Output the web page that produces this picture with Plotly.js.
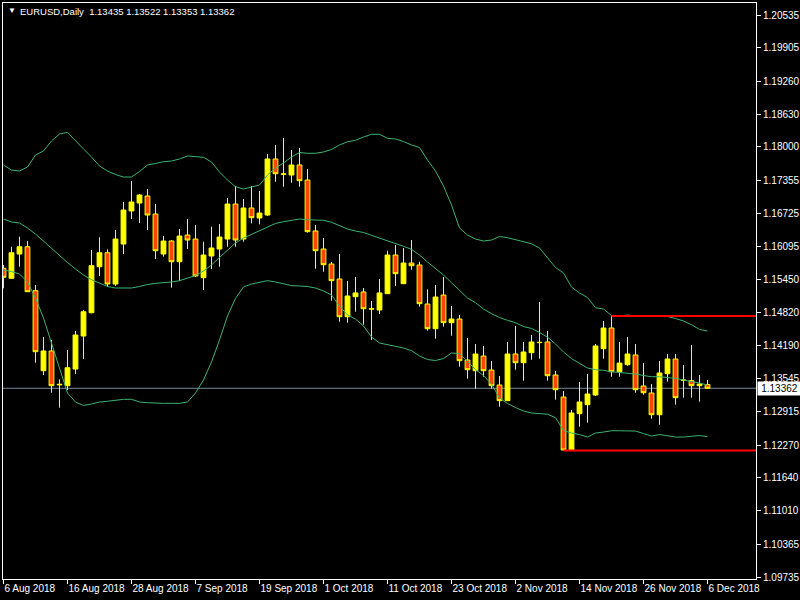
<!DOCTYPE html>
<html>
<head>
<meta charset="utf-8">
<script src="https://cdn.plot.ly/plotly-3.0.1.min.js"></script>
<style>
  html, body { margin: 0; padding: 0; background: #000; }
  #chart { width: 800px; height: 600px; }
</style>
</head>
<body>
<div id="chart"></div>
<script>
// ---- data (EURUSD, Daily) ----
const dates = [
  "2018-08-06","2018-08-07","2018-08-08","2018-08-09","2018-08-10","2018-08-13","2018-08-14","2018-08-15","2018-08-16","2018-08-17",
  "2018-08-20","2018-08-21","2018-08-22","2018-08-23","2018-08-24","2018-08-27","2018-08-28","2018-08-29","2018-08-30","2018-08-31",
  "2018-09-03","2018-09-04","2018-09-05","2018-09-06","2018-09-07","2018-09-10","2018-09-11","2018-09-12","2018-09-13","2018-09-14",
  "2018-09-17","2018-09-18","2018-09-19","2018-09-20","2018-09-21","2018-09-24","2018-09-25","2018-09-26","2018-09-27","2018-09-28",
  "2018-10-01","2018-10-02","2018-10-03","2018-10-04","2018-10-05","2018-10-08","2018-10-09","2018-10-10","2018-10-11","2018-10-12",
  "2018-10-15","2018-10-16","2018-10-17","2018-10-18","2018-10-19","2018-10-22","2018-10-23","2018-10-24","2018-10-25","2018-10-26",
  "2018-10-29","2018-10-30","2018-10-31","2018-11-01","2018-11-02","2018-11-05","2018-11-06","2018-11-07","2018-11-08","2018-11-09",
  "2018-11-12","2018-11-13","2018-11-14","2018-11-15","2018-11-16","2018-11-19","2018-11-20","2018-11-21","2018-11-22","2018-11-23",
  "2018-11-26","2018-11-27","2018-11-28","2018-11-29","2018-11-30","2018-12-03","2018-12-04","2018-12-05","2018-12-06"
];
const openP = [
  1.15668,1.15476,1.15942,1.16082,1.15238,1.13700,1.14079,1.13440,1.13412,1.13732,
  1.14367,1.14814,1.15698,1.15967,1.15366,1.16134,1.16769,1.16922,1.17057,1.16711,
  1.15942,1.16192,1.15794,1.16307,1.16230,1.15487,1.15904,1.16038,1.16230,1.16903,
  1.16230,1.16826,1.16634,1.16692,1.17768,1.17475,1.17460,1.17653,1.17364,1.16385,
  1.16038,1.15750,1.15462,1.14737,1.15122,1.15213,1.14891,1.14866,1.15180,1.15923,
  1.15372,1.15769,1.15731,1.14981,1.14507,1.15154,1.14623,1.14693,1.13905,1.13700,
  1.13982,1.13713,1.13425,1.13124,1.14021,1.13853,1.14046,1.14246,1.14252,1.13617,
  1.13194,1.12176,1.12874,1.13047,1.13233,1.14123,1.14520,1.13680,1.13815,1.14002,
  1.13406,1.13271,1.12854,1.13642,1.13924,1.13521,1.13508,1.13412,1.13435
];
const highP = [
  1.15731,1.16082,1.16275,1.16192,1.15347,1.14348,1.14290,1.13534,1.14098,1.14463,
  1.14866,1.16019,1.16264,1.16032,1.16404,1.16942,1.17345,1.17095,1.17191,1.16903,
  1.16288,1.16211,1.16423,1.16615,1.16500,1.16179,1.16467,1.16519,1.17018,1.17249,
  1.16999,1.17249,1.17153,1.17864,1.18037,1.18171,1.17941,1.17979,1.17575,1.16500,
  1.16250,1.15789,1.15942,1.15424,1.15500,1.15290,1.15039,1.15462,1.16006,1.16115,
  1.16058,1.16211,1.15794,1.15264,1.15347,1.15500,1.14943,1.14770,1.14328,1.14213,
  1.14175,1.13886,1.13598,1.14252,1.14559,1.14252,1.14386,1.15020,1.14463,1.13694,
  1.13310,1.12945,1.13483,1.13636,1.14213,1.14655,1.14751,1.14252,1.14348,1.14213,
  1.13848,1.13444,1.13886,1.14021,1.14021,1.13809,1.14194,1.13617,1.13522
];
const lowP = [
  1.15284,1.15462,1.15698,1.15213,1.13853,1.13617,1.13277,1.12989,1.13329,1.13636,
  1.13924,1.14803,1.15520,1.15314,1.15328,1.15942,1.16615,1.16538,1.16404,1.15846,
  1.15891,1.15295,1.15424,1.16038,1.15500,1.15251,1.15654,1.15698,1.16082,1.16082,
  1.16179,1.16532,1.16513,1.16673,1.17331,1.17235,1.17312,1.17235,1.16352,1.15660,
  1.15602,1.15045,1.14641,1.14622,1.14833,1.14584,1.14290,1.14789,1.15175,1.15329,
  1.15365,1.15641,1.14930,1.14469,1.14315,1.14546,1.14372,1.13777,1.13546,1.13354,
  1.13584,1.13354,1.13008,1.13118,1.13719,1.13508,1.13911,1.13930,1.13508,1.13143,
  1.12165,1.12170,1.12624,1.12700,1.13214,1.13930,1.13584,1.13584,1.13796,1.13277,
  1.13239,1.12777,1.12662,1.13489,1.13047,1.13181,1.13181,1.13104,1.13353
];
const closeP = [
  1.15495,1.15967,1.16082,1.15218,1.14065,1.14079,1.13412,1.13430,1.13757,1.14386,
  1.14833,1.15718,1.15967,1.15366,1.16230,1.16788,1.16942,1.17076,1.16692,1.16006,
  1.16192,1.15794,1.16288,1.16211,1.15520,1.15923,1.16058,1.16269,1.16903,1.16211,
  1.16826,1.16640,1.16730,1.17768,1.17485,1.17482,1.17653,1.17351,1.16372,1.16006,
  1.15737,1.15430,1.14737,1.15135,1.15194,1.14891,1.14885,1.15194,1.15923,1.15564,
  1.15769,1.15718,1.14988,1.14507,1.15116,1.14623,1.14693,1.13892,1.13719,1.14021,
  1.13700,1.13412,1.13124,1.14021,1.13853,1.14059,1.14252,1.14240,1.13604,1.13335,
  1.12176,1.12887,1.13099,1.13252,1.14175,1.14520,1.13680,1.13847,1.14021,1.13335,
  1.13277,1.12854,1.13656,1.13924,1.13181,1.13515,1.13412,1.13444,1.13362
];
// Bollinger Bands (20)
const bbUpper = [
  1.17653,1.17556,1.17537,1.17614,1.17845,1.17922,1.18114,1.18248,1.18281,1.18114,
  1.17960,1.17807,1.17634,1.17537,1.17470,1.17422,1.17422,1.17528,1.17653,1.17682,
  1.17716,1.17730,1.17768,1.17826,1.17807,1.17801,1.17711,1.17518,1.17364,1.17236,
  1.17191,1.17230,1.17268,1.17460,1.17595,1.17691,1.17807,1.17893,1.17878,1.17878,
  1.17903,1.17951,1.18037,1.18101,1.18127,1.18191,1.18243,1.18243,1.18166,1.18152,
  1.18104,1.18037,1.17989,1.17749,1.17537,1.17249,1.16884,1.16442,1.16307,1.16230,
  1.16192,1.16211,1.16279,1.16256,1.16217,1.16179,1.16140,1.16058,1.15865,1.15683,
  1.15577,1.15308,1.15193,1.15106,1.14910,1.14885,1.14760,1.14751,1.14770,1.14751,
  1.14751,1.14751,1.14751,1.14741,1.14703,1.14655,1.14584,1.14492,1.14463
];
const bbMiddle = [
  1.16615,1.16557,1.16538,1.16442,1.16327,1.16192,1.16058,1.15904,1.15779,1.15654,
  1.15539,1.15449,1.15385,1.15318,1.15289,1.15283,1.15289,1.15318,1.15357,1.15379,
  1.15391,1.15405,1.15430,1.15475,1.15529,1.15616,1.15731,1.15875,1.16019,1.16154,
  1.16250,1.16317,1.16384,1.16452,1.16529,1.16563,1.16588,1.16615,1.16601,1.16596,
  1.16590,1.16552,1.16490,1.16423,1.16384,1.16356,1.16302,1.16250,1.16208,1.16154,
  1.16090,1.16033,1.15923,1.15788,1.15664,1.15539,1.15391,1.15238,1.15097,1.15007,
  1.14885,1.14795,1.14722,1.14668,1.14622,1.14549,1.14511,1.14434,1.14344,1.14213,
  1.14059,1.13932,1.13838,1.13752,1.13719,1.13707,1.13680,1.13665,1.13661,1.13636,
  1.13607,1.13584,1.13584,1.13569,1.13553,1.13521,1.13496,1.13463,1.13425
];
const bbLower = [
  1.15635,1.15606,1.15558,1.15405,1.15097,1.14713,1.14232,1.13732,1.13271,1.13098,
  1.13031,1.13060,1.13098,1.13112,1.13127,1.13150,1.13150,1.13098,1.13085,1.13073,
  1.13073,1.13073,1.13073,1.13098,1.13271,1.13521,1.13867,1.14290,1.14751,1.15091,
  1.15308,1.15366,1.15395,1.15430,1.15405,1.15366,1.15334,1.15328,1.15318,1.15289,
  1.15232,1.15155,1.14943,1.14770,1.14693,1.14559,1.14348,1.14232,1.14204,1.14175,
  1.14136,1.14085,1.13983,1.13915,1.13896,1.13934,1.14040,1.14030,1.13867,1.13723,
  1.13607,1.13444,1.13175,1.13069,1.12992,1.12925,1.12887,1.12871,1.12864,1.12797,
  1.12550,1.12502,1.12473,1.12425,1.12502,1.12521,1.12546,1.12546,1.12546,1.12540,
  1.12492,1.12444,1.12473,1.12454,1.12425,1.12425,1.12444,1.12454,1.12431
];
const priceTicks = [1.20535,1.19905,1.19260,1.18630,1.18000,1.17355,1.16725,1.16095,1.15450,1.14820,1.14190,1.13545,1.12915,1.12270,1.11640,1.11010,1.10365,1.09735];
const dateTickVals = ["2018-08-06","2018-08-16","2018-08-28","2018-09-07","2018-09-19","2018-10-01","2018-10-11","2018-10-23","2018-11-02","2018-11-14","2018-11-26","2018-12-06"];
const dateTickText = ["6 Aug 2018","16 Aug 2018","28 Aug 2018","7 Sep 2018","19 Sep 2018","1 Oct 2018","11 Oct 2018","23 Oct 2018","2 Nov 2018","14 Nov 2018","26 Nov 2018","6 Dec 2018"];
const symbolTitle = "EURUSD,Daily";
const lastBar = [1.13435, 1.13522, 1.13353, 1.13362];
const bidPrice = 1.13362;
const resistanceStart = "2018-11-20", resistancePrice = 1.14751;
const supportStart = "2018-11-12", supportPrice = 1.12165;

// ---- styles ----
const YELLOW = "#FFFF00", BEAR = "#FF4500", BAND = "#3CB371";
const FONT = "Liberation Sans, Arial, sans-serif";

const traces = [
  {
    type: "candlestick", x: dates, open: openP, high: highP, low: lowP, close: closeP,
    increasing: { line: { color: YELLOW, width: 1 }, fillcolor: YELLOW },
    decreasing: { line: { color: YELLOW, width: 1 }, fillcolor: BEAR },
    whiskerwidth: 0, hoverinfo: "skip"
  },
  { type: "scatter", mode: "lines", x: dates, y: bbUpper, line: { color: BAND, width: 1 }, hoverinfo: "skip" },
  { type: "scatter", mode: "lines", x: dates, y: bbMiddle, line: { color: BAND, width: 1 }, hoverinfo: "skip" },
  { type: "scatter", mode: "lines", x: dates, y: bbLower, line: { color: BAND, width: 1 }, hoverinfo: "skip" }
];

const xMax = 94.06;
const layout = {
  width: 800, height: 600,
  margin: { l: 3, r: 44, t: 3, b: 21, pad: 0 },
  paper_bgcolor: "#000000", plot_bgcolor: "#000000",
  showlegend: false,
  boxgap: 0.2, boxgroupgap: 0.25,
  font: { family: FONT, size: 10, color: "#FFFFFF" },
  xaxis: {
    type: "category", range: [-0.06, xMax], fixedrange: true,
    rangeslider: { visible: false },
    showgrid: false, zeroline: false,
    showline: true, mirror: true, linecolor: "#FFFFFF", linewidth: 1,
    ticks: "outside", ticklen: 4, tickcolor: "#FFFFFF", tickwidth: 1,
    tickvals: dateTickVals, ticktext: dateTickText,
    ticklabelposition: "outside right", tickangle: 0,
    tickfont: { family: FONT, size: 10, color: "#FFFFFF" }
  },
  yaxis: {
    side: "right", range: [1.09697, 1.20766], fixedrange: true,
    showgrid: false, zeroline: false,
    showline: true, mirror: true, linecolor: "#FFFFFF", linewidth: 1,
    ticks: "outside", ticklen: 4, tickcolor: "#FFFFFF", tickwidth: 1,
    tickvals: priceTicks, ticktext: priceTicks.map(v => v.toFixed(5)),
    tickfont: { family: FONT, size: 10, color: "#FFFFFF" }
  },
  shapes: [
    { type: "line", xref: "paper", yref: "y", x0: 0, x1: 1, y0: bidPrice, y1: bidPrice,
      line: { color: "#778899", width: 1 }, layer: "below" },
    { type: "line", xref: "x", yref: "y", x0: dates.indexOf(resistanceStart), x1: xMax, y0: resistancePrice, y1: resistancePrice,
      line: { color: "#FF0000", width: 2 }, layer: "above" },
    { type: "line", xref: "x", yref: "y", x0: dates.indexOf(supportStart), x1: xMax, y0: supportPrice, y1: supportPrice,
      line: { color: "#FF0000", width: 2 }, layer: "above" }
  ],
  annotations: [
    { xref: "paper", yref: "paper", x: 0.004, y: 0.9865, xanchor: "left", yanchor: "middle", showarrow: false,
      text: "▼", font: { family: FONT, size: 8, color: "#FFFFFF" } },
    { xref: "paper", yref: "paper", x: 0.0199, y: 0.986, xanchor: "left", yanchor: "middle", showarrow: false,
      text: symbolTitle + "  " + lastBar.map(v => v.toFixed(5)).join(" "),
      font: { family: FONT, size: 9.5, color: "#FFFFFF" } },
    { xref: "paper", yref: "y", x: 1, xshift: 1, y: bidPrice, xanchor: "left", yanchor: "middle", showarrow: false,
      text: bidPrice.toFixed(5), bgcolor: "#FFFFFF", width: 41, height: 11, borderpad: 1, align: "center",
      font: { family: FONT, size: 10, color: "#000000" } }
  ]
};

Plotly.newPlot("chart", traces, layout, { staticPlot: true, displayModeBar: false });
</script>
</body>
</html>
